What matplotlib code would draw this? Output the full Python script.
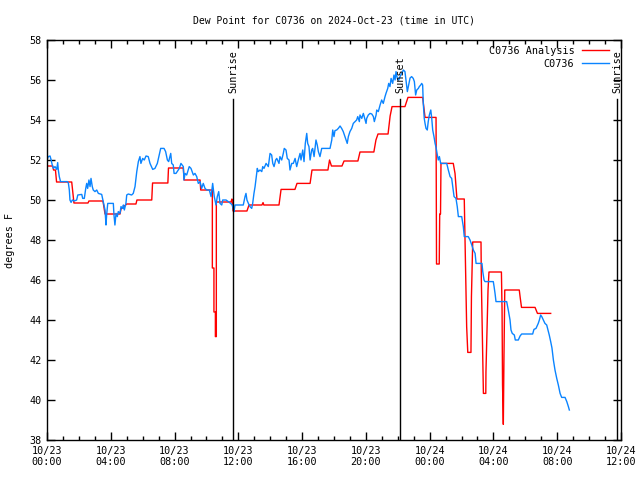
import numpy as np
import matplotlib
matplotlib.use("Agg")
import matplotlib.pyplot as plt
from matplotlib.ticker import MultipleLocator

# hours since 2024-10-23 00:00 UTC, dew point in degrees F
obs_hours = [
    0.00, 0.08, 0.19, 0.25, 0.33, 0.40, 0.50, 0.61, 0.67, 0.71, 0.77, 0.85,
    1.27, 1.34, 1.40, 1.44, 1.51, 1.59, 1.71, 1.86, 1.93, 2.18, 2.24, 2.34,
    2.43, 2.49, 2.55, 2.63, 2.70, 2.76, 2.84, 2.90, 3.01, 3.12, 3.22, 3.43,
    3.53, 3.64, 3.70, 3.74, 3.81, 4.16, 4.20, 4.26, 4.33, 4.41, 4.47, 4.58,
    4.64, 4.75, 4.79, 4.85, 4.95, 5.00, 5.10, 5.31, 5.41, 5.52, 5.63, 5.73,
    5.83, 5.89, 6.00, 6.10, 6.21, 6.35, 6.46, 6.63, 6.77, 6.92, 7.04, 7.13,
    7.34, 7.44, 7.55, 7.63, 7.76, 7.82, 7.92, 7.97, 8.09, 8.30, 8.40, 8.55,
    8.59, 8.66, 8.76, 8.92, 9.03, 9.18, 9.28, 9.39, 9.49, 9.60, 9.70, 9.80,
    9.91, 10.02, 10.18, 10.29, 10.39, 10.49, 10.60, 10.68, 10.77, 10.85,
    10.96, 11.02, 11.23, 11.37, 11.52, 11.62, 11.69, 11.73, 11.79, 12.31,
    12.42, 12.48, 12.54, 12.63, 12.73, 12.84, 12.90, 12.98, 13.05, 13.11,
    13.19, 13.25, 13.36, 13.47, 13.53, 13.61, 13.74, 13.88, 13.99, 14.09,
    14.16, 14.24, 14.34, 14.41, 14.55, 14.61, 14.72, 14.82, 14.88, 14.99,
    15.07, 15.18, 15.24, 15.35, 15.45, 15.56, 15.66, 15.76, 15.87, 15.93,
    16.04, 16.12, 16.20, 16.29, 16.35, 16.43, 16.50, 16.60, 16.66, 16.75,
    16.87, 16.95, 17.02, 17.12, 17.23, 17.75, 17.86, 17.92, 18.00, 18.06,
    18.17, 18.27, 18.38, 18.48, 18.58, 18.65, 18.75, 18.83, 18.90, 19.00,
    19.11, 19.21, 19.32, 19.42, 19.49, 19.59, 19.63, 19.74, 19.84, 19.95,
    20.01, 20.05, 20.15, 20.26, 20.37, 20.47, 20.53, 20.64, 20.68, 20.78,
    20.89, 20.99, 21.09, 21.20, 21.26, 21.37, 21.43, 21.51, 21.58, 21.68,
    21.76, 21.83, 21.89, 21.97, 22.06, 22.14, 22.25, 22.35, 22.45, 22.50,
    22.56, 22.60, 22.77, 22.87, 22.97, 23.04, 23.12, 23.19, 23.29, 23.35,
    23.44, 23.50, 23.56, 23.60, 23.66, 23.71, 23.77, 23.85, 23.91, 23.98,
    24.07, 24.13, 24.19, 24.27, 24.34, 24.40, 24.48, 24.54, 24.61, 24.69,
    25.07, 25.17, 25.28, 25.38, 25.45, 25.53, 25.65, 25.73, 25.80, 26.01,
    26.11, 26.17, 26.42, 26.53, 26.64, 26.74, 26.85, 26.91, 27.28, 27.33,
    27.41, 27.47, 27.99, 28.04, 28.10, 28.16, 28.83, 28.93, 29.04, 29.10,
    29.18, 29.31, 29.37, 29.56, 29.67, 29.77, 30.46, 30.54, 30.67, 30.81,
    30.88, 30.96, 31.03, 31.13, 31.23, 31.34, 31.50, 31.59, 31.67, 31.76,
    31.86, 31.97, 32.07, 32.18, 32.28, 32.49, 32.60, 32.70, 32.76,
]
obs_dewpt = [
    52.00, 52.17, 52.20, 52.03, 51.75, 51.58, 51.67, 51.53, 51.87, 51.50, 51.17, 50.92,
    50.92, 50.85, 50.50, 50.00, 49.88, 50.00, 49.95, 50.00, 50.25, 50.28, 50.08, 50.08,
    50.58, 50.83, 50.58, 51.00, 50.67, 51.08, 50.67, 50.50, 50.42, 50.50, 50.33, 50.28,
    49.92, 49.50, 48.75, 49.25, 49.83, 49.83, 49.25, 48.75, 49.33, 49.17, 49.42, 49.33,
    49.67, 49.58, 49.75, 49.50, 49.83, 50.25, 50.30, 50.25, 50.33, 50.67, 51.42, 51.92,
    52.17, 51.83, 52.08, 52.00, 52.20, 52.17, 51.83, 51.53, 51.58, 51.83, 52.25, 52.58,
    52.58, 52.42, 52.00, 51.92, 52.33, 51.83, 51.75, 51.33, 51.33, 51.58, 51.83, 51.67,
    51.00, 51.33, 51.25, 51.67, 51.58, 51.25, 51.33, 51.17, 50.83, 50.92, 50.58, 50.83,
    50.58, 50.50, 50.50, 50.17, 50.83, 50.17, 49.75, 50.17, 50.42, 49.83,
    49.75, 50.00, 50.00, 49.92, 49.83, 49.75, 49.50, 49.42, 49.75, 49.75,
    50.17, 50.33, 50.00, 49.83, 49.67, 49.58, 49.83, 50.33, 50.67, 51.08,
    51.58, 51.42, 51.50, 51.42, 51.67, 51.58, 51.83, 51.67, 52.33, 52.25,
    51.83, 51.67, 52.00, 52.08, 51.83, 52.17, 52.00, 52.33, 52.58, 52.50,
    52.08, 52.00, 51.50, 51.83, 51.83, 52.08, 51.67, 52.00, 52.33, 52.00,
    52.50, 51.92, 52.83, 53.33, 52.83, 52.67, 52.00, 52.50, 52.58, 52.17,
    53.00, 52.75, 52.42, 52.17, 52.58, 52.58, 53.00, 53.50, 53.17, 53.47,
    53.50, 53.58, 53.70, 53.58, 53.42, 53.25, 53.00, 52.83, 53.17, 53.42,
    53.58, 53.83, 53.92, 54.00, 54.17, 53.92, 54.25, 54.08, 54.33, 54.00,
    53.83, 54.08, 54.25, 54.33, 54.30, 54.17, 53.92, 54.25, 54.50, 54.42,
    54.75, 55.00, 54.83, 55.17, 55.33, 55.58, 55.83, 55.67, 56.08, 55.83,
    56.25, 56.00, 56.42, 56.08, 56.00, 56.17, 56.33, 56.50, 56.42, 56.08,
    55.67, 55.42, 56.10, 56.17, 56.08, 55.92, 55.25, 55.50, 55.58, 55.67,
    55.75, 55.83, 55.75, 54.83, 54.08, 53.83, 53.58, 53.50, 53.92, 54.25,
    54.50, 54.08, 53.50, 53.17, 52.83, 52.63, 52.25, 52.00, 52.17, 51.83,
    51.83, 51.50, 51.17, 51.08, 50.67, 50.17, 50.08, 49.67, 49.17, 49.17,
    48.67, 48.17, 48.17, 48.00, 47.75, 47.50, 47.33, 46.83, 46.83, 46.42,
    46.00, 45.92, 45.92, 45.67, 45.33, 44.92, 44.92, 44.50, 44.00, 43.50,
    43.33, 43.25, 43.00, 43.00, 43.20, 43.30, 43.30, 43.53, 43.58, 43.83,
    44.00, 44.25, 44.17, 44.00, 43.83, 43.75, 43.25, 42.92, 42.60, 42.00,
    41.50, 41.08, 40.75, 40.33, 40.13, 40.13, 39.92, 39.67, 39.50,
]

ana_hours = [
    0.00, 0.36, 0.41, 0.53, 0.60, 1.55, 1.63, 1.69, 2.57, 2.63, 3.51, 3.58,
    3.64, 4.58, 4.64, 5.00, 5.58, 5.64, 6.57, 6.62, 7.58, 7.62, 8.55, 8.60,
    9.60, 9.64, 10.37, 10.37, 10.47, 10.47, 10.56, 10.56, 10.62, 10.62, 11.54,
    11.60, 11.67, 12.54, 12.67, 13.48, 13.55, 13.60, 14.55, 14.68, 15.55,
    15.68, 16.50, 16.62, 17.62, 17.72, 17.84, 18.50, 18.63, 19.50, 19.63,
    20.50, 20.63, 20.76, 21.39, 21.52, 21.64, 22.45, 22.64, 23.56, 23.71,
    24.40, 24.43, 24.60, 24.63, 24.68, 24.71, 25.48, 25.59, 25.71, 26.17,
    26.20, 26.32, 26.39, 26.59, 26.62, 26.70, 27.22, 27.24, 27.37, 27.52,
    27.53, 27.66, 27.72, 28.50, 28.54, 28.57, 28.62, 28.66, 28.71, 29.62,
    29.67, 29.76, 30.61, 30.76, 31.59,
]
ana_dewpt = [
    51.70, 51.70, 51.50, 51.50, 50.90, 50.90, 50.30, 49.85, 49.85, 49.95, 49.95, 49.60,
    49.30, 49.30, 49.55, 49.80, 49.80, 50.00, 50.00, 50.85, 50.85, 51.60, 51.60, 51.00,
    51.00, 50.50, 50.50, 46.60, 46.60, 44.40, 44.40, 43.17, 43.17, 49.90, 49.90,
    50.05, 49.45, 49.45, 49.75, 49.75, 49.87, 49.75, 49.75, 50.53, 50.53,
    50.83, 50.83, 51.50, 51.50, 52.00, 51.70, 51.70, 51.95, 51.95, 52.40,
    52.40, 53.00, 53.30, 53.30, 54.20, 54.67, 54.67, 55.13, 55.13, 54.13,
    54.13, 46.80, 46.80, 49.30, 49.30, 51.83, 51.83, 51.33, 50.05, 50.05,
    48.75, 43.67, 42.38, 42.38, 45.17, 47.90, 47.90, 46.05, 40.33, 40.33,
    41.40, 45.50, 46.40, 46.40, 44.50, 40.75, 38.78, 42.17, 45.50, 45.50,
    45.17, 44.63, 44.63, 44.33, 44.33,
]

sun_events = ["Sunrise", "Sunset", "Sunrise"]
sun_hours = [11.67, 22.14, 35.75]

tick_hours = [0, 4, 8, 12, 16, 20, 24, 28, 32, 36]
tick_labels = ["10/23\n00:00", "10/23\n04:00", "10/23\n08:00", "10/23\n12:00",
               "10/23\n16:00", "10/23\n20:00", "10/24\n00:00", "10/24\n04:00",
               "10/24\n08:00", "10/24\n12:00"]

plt.rcParams['font.family'] = ['DejaVu Sans Mono']
plt.rcParams['font.size'] = 7.3

fig = plt.figure(figsize=(6.4, 4.8), dpi=100)
ax = fig.add_axes([47/640, 40/480, 574/640, 400/480])

ax.plot(ana_hours, ana_dewpt, color='#ff0000', lw=1.0, label='C0736 Analysis')
ax.plot(obs_hours, obs_dewpt, color='#0a84ff', lw=1.0, label='C0736')

for name, h in zip(sun_events, sun_hours):
    ax.plot([h, h], [38, 55.05], color='black', lw=1.0)
    ax.text(h, 55.35, name, rotation=90, ha='center', va='bottom')

ax.set_xlim(0, 36)
ax.set_ylim(38, 58)
ax.set_xticks(tick_hours)
ax.set_xticklabels(tick_labels)
ax.xaxis.set_minor_locator(MultipleLocator(1))
ax.yaxis.set_major_locator(MultipleLocator(2))
ax.tick_params(which='both', direction='in', top=True, right=True, width=1)
ax.tick_params(which='major', length=6, pad=4)
ax.tick_params(which='minor', length=3)
for s in ax.spines.values():
    s.set_linewidth(1.0)

ax.set_ylabel('degrees F', labelpad=10)
ax.set_title('Dew Point for C0736 on 2024-Oct-23 (time in UTC)', fontsize=7.0, pad=12)

ax.legend(loc='upper right', bbox_to_anchor=(0.979, 0.985), frameon=False,
          markerfirst=False, handlelength=2.7, borderaxespad=0, borderpad=0,
          labelspacing=0.3, handletextpad=0.7)

fig.savefig('out.png', dpi=100)
